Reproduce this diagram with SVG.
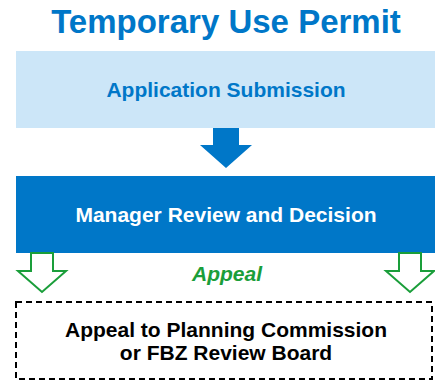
<svg xmlns="http://www.w3.org/2000/svg" width="435" height="383" viewBox="0 0 435 383">
<style>
text{font-family:"Liberation Sans",Arial,sans-serif;font-weight:bold;text-anchor:middle}
.g{fill:#fff;stroke:#1A9E3A;stroke-width:2}
</style>
<rect width="435" height="383" fill="#fff"/>
<text id="title" x="226" y="33" font-size="33" fill="#0077C8">Temporary Use Permit</text>
<g id="application">
<rect x="16" y="51" width="419" height="77" fill="#CCE6F8"/>
<text x="226" y="97" font-size="21" fill="#0077C8">Application Submission</text>
</g>
<g id="manager">
<rect x="16" y="176" width="419" height="77" fill="#0077C8"/>
<text x="226" y="222" font-size="21" fill="#fff">Manager Review and Decision</text>
</g>
<g id="appeal">
<rect x="16" y="302" width="416" height="77" fill="none" stroke="#000" stroke-width="2" stroke-dasharray="6,4"/>
<text x="226" y="337" font-size="21" fill="#000">Appeal to Planning Commission</text>
<text x="226" y="360" font-size="21" fill="#000">or FBZ Review Board</text>
</g>
<g id="connectors">
<polygon points="213,128 239,128 239,145 252,145 226,168 200,145 213,145" fill="#0077C8"/>
<polygon class="g" points="31,253 53,253 53,271 66,271 42,292 18,271 31,271"/>
<polygon class="g" points="399,253 421,253 421,271 434,271 410,292 386,271 399,271"/>
<text x="227" y="281" font-size="21" font-style="italic" fill="#1A9E3A">Appeal</text>
</g>
</svg>
